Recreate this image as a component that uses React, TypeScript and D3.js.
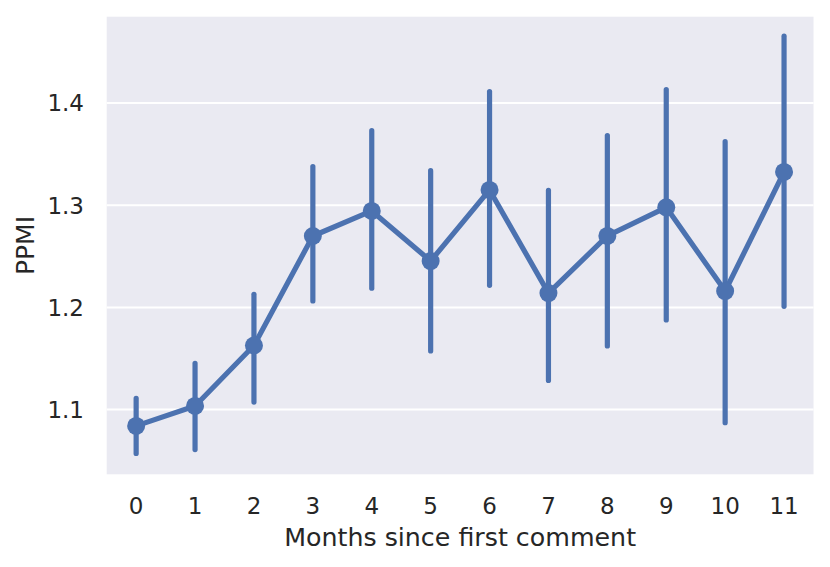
import React from "react";
import * as d3 from "d3";

const months = ["0", "1", "2", "3", "4", "5", "6", "7", "8", "9", "10", "11"];
const meanValues = [1.084, 1.1035, 1.1627, 1.2699, 1.2944, 1.2454, 1.315, 1.214, 1.270, 1.298, 1.216, 1.3326];
const ciLow = [1.0545, 1.0584, 1.1049, 1.2039, 1.2163, 1.1549, 1.2192, 1.126, 1.1598, 1.1853, 1.0846, 1.1986];
const ciHigh = [1.1133, 1.1476, 1.2153, 1.3402, 1.3755, 1.3363, 1.4137, 1.317, 1.3706, 1.4157, 1.3647, 1.468];
const yTicks = [1.1, 1.2, 1.3, 1.4];

const W = 830;
const H = 567;
const left = 106.7;
const right = 813.5;
const top = 16.7;
const bottom = 474.3;
const color = "#4c72b0";
const font = "DejaVu Sans, sans-serif";

export default function App() {
  const x = d3.scalePoint<string>().domain(months).range([left, right]).padding(0.5);
  const y = d3.scaleLinear().domain([1.0366, 1.4846]).range([bottom, top]);
  const line = d3
    .line<number>()
    .x((_, i) => x(months[i]) as number)
    .y((d) => y(d));

  return (
    <svg
      width={W}
      height={H}
      style={{ position: "absolute", left: 0, top: 0 }}
      xmlns="http://www.w3.org/2000/svg"
    >
      <rect x={0} y={0} width={W} height={H} fill="#ffffff" />
      <rect x={left} y={top} width={right - left} height={bottom - top} fill="#eaeaf2" />
      {yTicks.map((t) => (
        <line key={t} x1={left} x2={right} y1={y(t)} y2={y(t)} stroke="#ffffff" strokeWidth={2} />
      ))}
      {months.map((m, i) => (
        <line
          key={"ci" + m}
          x1={x(m)}
          x2={x(m)}
          y1={y(ciLow[i]) - 2.5}
          y2={y(ciHigh[i]) + 2.5}
          stroke={color}
          strokeWidth={5.2}
          strokeLinecap="round"
        />
      ))}
      <path d={line(meanValues) || ""} fill="none" stroke={color} strokeWidth={5.2} strokeLinejoin="round" strokeLinecap="round" />
      {months.map((m, i) => (
        <circle key={"pt" + m} cx={x(m)} cy={y(meanValues[i])} r={9} fill={color} />
      ))}
      {yTicks.map((t) => (
        <text
          key={"yl" + t}
          x={84}
          y={y(t) + 8.3}
          textAnchor="end"
          fontFamily={font}
          fontSize={23}
          fill="#262626"
        >
          {t.toFixed(1)}
        </text>
      ))}
      {months.map((m) => (
        <text
          key={"xl" + m}
          x={x(m)}
          y={514.3}
          textAnchor="middle"
          fontFamily={font}
          fontSize={23}
          fill="#262626"
        >
          {m}
        </text>
      ))}
      <text
        x={(left + right) / 2}
        y={546}
        textAnchor="middle"
        fontFamily={font}
        fontSize={25.3}
        fill="#262626"
      >
        Months since first comment
      </text>
      <text
        transform={`translate(33.5, ${(top + bottom) / 2}) rotate(-90)`}
        textAnchor="middle"
        fontFamily={font}
        fontSize={25}
        fill="#262626"
      >
        PPMI
      </text>
    </svg>
  );
}
